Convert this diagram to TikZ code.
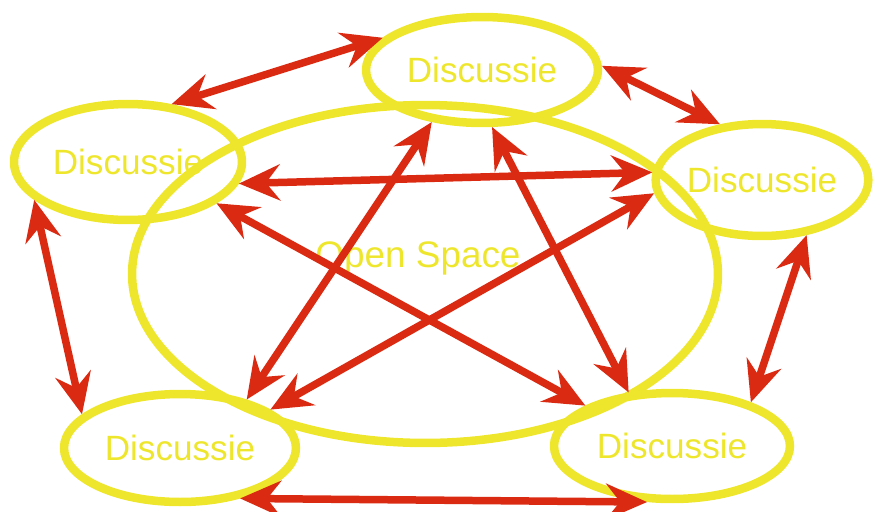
\documentclass[tikz,border=0pt]{standalone}
\usepackage{fontspec}
\setmainfont{Liberation Sans}
\usetikzlibrary{arrows.meta, positioning, shapes.geometric}

\definecolor{spaceyellow}{HTML}{EEE62C}
\definecolor{arrowred}{HTML}{DB2A12}

\begin{document}
\begin{tikzpicture}[x=0.02cm, y=-0.02cm,
        group/.style={draw=spaceyellow, line width=0.17cm, ellipse, inner sep=0pt,
            text=spaceyellow, font=\fontsize{20}{24}\selectfont},
        twoway/.style={draw=arrowred, line width=0.15cm,
            {Stealth[length=0.82cm, width=0.72cm, inset=0.28cm]}-{Stealth[length=0.82cm, width=0.72cm, inset=0.28cm]}}]
        \useasboundingbox (0,0) rectangle (875,511);

        % Open Space
        \node (open) [group, minimum width=11.72cm, minimum height=6.76cm] at (425,274) {};
        \node (openlabel) [text=spaceyellow, font=\fontsize{21}{24}\selectfont] at (418,258) {Open Space};

        % Discussions
        \node (top) [group, minimum width=4.64cm, minimum height=2.12cm] at (482,70) {Discussie};
        \node (left) [group, minimum width=4.56cm, minimum height=2.32cm] at (128,162) {Discussie};
        \node (right) [group, minimum width=4.24cm, minimum height=2.24cm] at (762,180) {Discussie};
        \node (botleft) [group, minimum width=4.64cm, minimum height=2.16cm] at (180,448) {Discussie};
        \node (botright) [group, minimum width=4.72cm, minimum height=2.12cm] at (672,446) {Discussie};

        % Arrows between the discussions
        \draw[twoway] (top.162.7) -- (left.53.3);
        \draw[twoway] (top.2.6) -- (right.127.6);
        \draw[twoway] (left.-11) -- (right.176.8);
        \draw[twoway] (left.-25.6) -- (botright.155.9);
        \draw[twoway] (top.226.4) -- (botleft.36.9);
        \draw[twoway] (top.280.1) -- (botright.129.7);
        \draw[twoway] (right.187.6) -- (botleft.23.3);
        \draw[twoway] (left.202.8) -- (botleft.161.6);
        \draw[twoway] (right.309.8) -- (botright.29.1);
        \draw[twoway] (botleft.-40) -- (botright.246);
    \end{tikzpicture}
\end{document}
